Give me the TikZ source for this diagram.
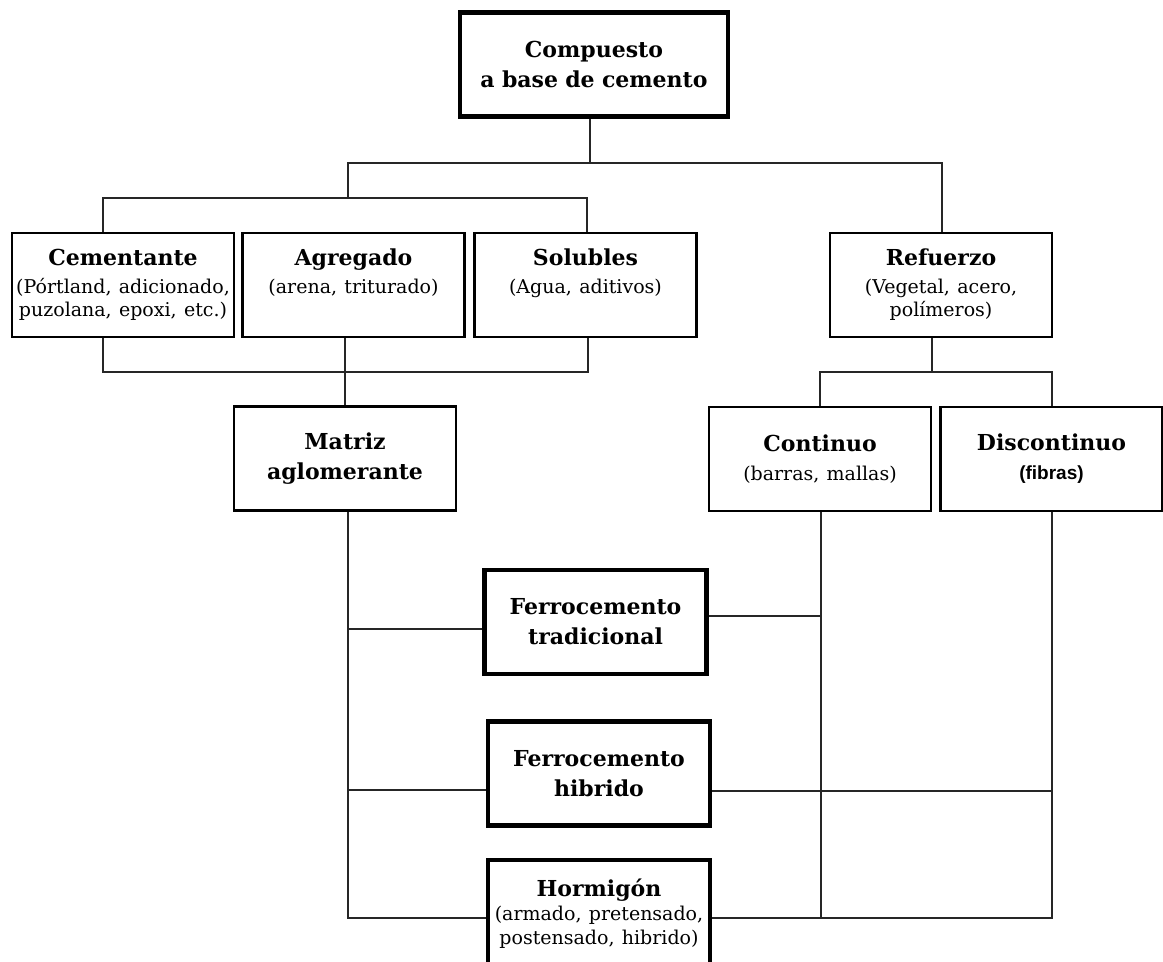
\documentclass[tikz,border=0pt]{standalone}
\usepackage{fontspec}
\setmainfont{DejaVu Serif}
\setsansfont{Liberation Sans}
\usetikzlibrary{positioning}
\newcommand\bxtitle{\fontsize{11}{15}\selectfont\bfseries}
\newcommand\bxnote{\fontsize{9.5}{11.5}\selectfont\mdseries}

\begin{document}
\begin{tikzpicture}
		[x=0.5pt,y=-0.5pt,
		 cell/.style={draw,line width=1.1pt,inner sep=0pt,align=center,
		   text width=111pt,minimum width=111pt,minimum height=52pt,font=\bxtitle},
		 heavy/.style={cell,line width=2.2pt},
		 link/.style={draw=black!85,line width=1pt}]
		\useasboundingbox (0,0) rectangle (1163,962);
		\node[heavy,text width=134pt,minimum width=134pt] (comp) at (594,64.5) {Compuesto\\a base de cemento};
		\node[cell] (cem) at (123,285) {Cementante\\[2.5pt]\bxnote (Pórtland, adicionado,\\puzolana, epoxi, etc.)\par};
		\node[cell] (agr) at (353.5,285) {Agregado\\[2.5pt]\bxnote (arena, triturado)\\\vphantom{p)}\par};
		\node[cell] (sol) at (585.5,285) {Solubles\\[2.5pt]\bxnote (Agua, aditivos)\\\vphantom{p)}\par};
		\node[cell] (ref) at (941,285) {Refuerzo\\[2.5pt]\bxnote (Vegetal, acero,\\polímeros)\par};
		\node[cell] (mat) at (345,458.5) {Matriz\\aglomerante};
		\node[cell] (con) at (820,459) {Continuo\\[3pt]\bxnote (barras, mallas)\par};
		\node[cell] (dis) at (1051.5,459) {Discontinuo\\[3pt]\bxnote\sffamily\bfseries (fibras)\par};
		\node[heavy] (ftr) at (595.5,622) {Ferrocemento\\tradicional};
		\node[heavy] (fhb) at (599,773.5) {Ferrocemento\\hibrido};
		\node[heavy,minimum height=54pt] (hor) at (599,914) {Hormigón\\[0.5pt]\bxnote (armado, pretensado,\\[0.5pt]postensado, hibrido)\par};

		\coordinate (mixC) at (590,163);
		\coordinate (mixL) at (348,163);
		\coordinate (mixR) at (942,163);
		\coordinate (rowL) at (103,198);
		\coordinate (rowR) at (587,198);
		\coordinate (baseL) at (103,372);
		\coordinate (baseR) at (588,372);
		\coordinate (refJ) at (932,372);
		\coordinate (m1) at (348,629);
		\coordinate (m2) at (348,790);
		\coordinate (matB) at (348,918);
		\coordinate (c1) at (821,616);
		\coordinate (cB) at (821,918);
		\coordinate (d2) at (1052,791);
		\coordinate (dB) at (1052,918);

		\draw[link] (mixC |- comp.south) -- (mixC);
		\draw[link] (mixL |- rowL) -- (mixL) -- (mixR) -- (mixR |- ref.north);
		\draw[link] (rowL |- cem.north) -- (rowL) -- (rowR) -- (rowR |- sol.north);
		\draw[link] (baseL |- cem.south) -- (baseL) -- (baseR) -- (baseR |- sol.south);
		\draw[link] (agr.south -| mat.north) -- (mat.north);
		\draw[link] (refJ |- ref.south) -- (refJ);
		\draw[link] (con.north) |- (dis.north |- refJ) -- (dis.north);
		\draw[link] (mat.south -| matB) -- (matB) -- (matB -| hor.west);
		\draw[link] (m1) -- (m1 -| ftr.west);
		\draw[link] (m2) -- (m2 -| fhb.west);
		\draw[link] (con.south -| cB) -- (cB);
		\draw[link] (dis.south -| dB) -- (dB) -- (dB -| hor.east);
		\draw[link] (ftr.east |- c1) -- (c1);
		\draw[link] (fhb.east |- d2) -- (d2);
\end{tikzpicture}
\end{document}
